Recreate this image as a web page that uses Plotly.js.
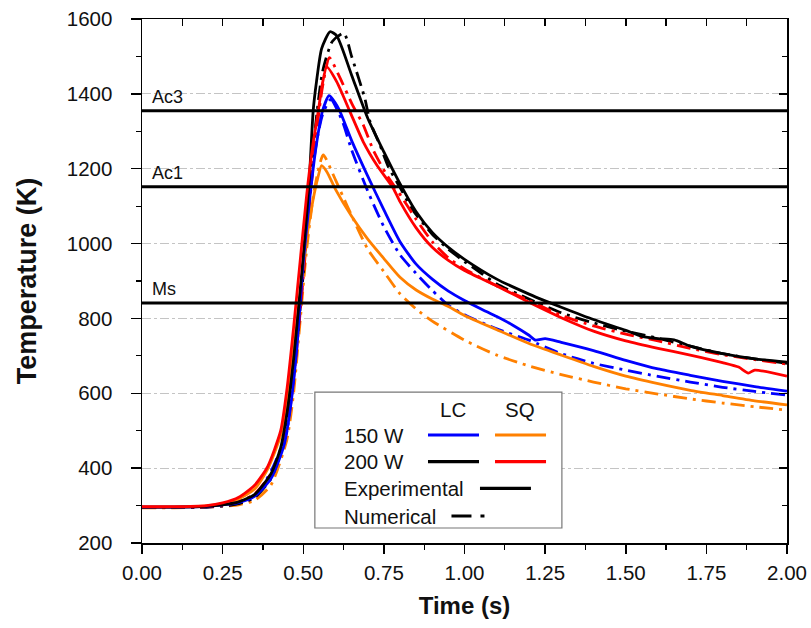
<!DOCTYPE html>
<html><head><meta charset="utf-8">
<script src="https://cdn.plot.ly/plotly-3.0.1.min.js"></script>
<style>html,body{margin:0;padding:0;background:#fff}#chart{width:811px;height:628px}</style>
</head><body><div id="chart"></div>
<script>
// ---- data ----
const lc150ExpT = [0,0.10,0.20,0.25,0.30,0.35,0.40,0.44,0.46,0.48,0.50,0.52,0.54,0.56,0.58,0.61,0.65,0.70,0.75,0.80,0.85,0.90,0.95,1.00,1.05,1.10,1.15,1.20,1.22,1.25,1.30,1.40,1.50,1.60,1.70,1.80,1.90,2.00];
const lc150ExpK = [296,296,298,302,308,325,372,460,560,720,950,1120,1260,1355,1395,1360,1275,1180,1090,1005,945,905,873,848,826,805,782,755,742,746,736,714,688,665,648,632,618,606];

const lc150NumT = [0,0.10,0.20,0.25,0.30,0.345,0.376,0.407,0.45,0.46,0.48,0.50,0.52,0.54,0.56,0.585,0.62,0.65,0.70,0.75,0.80,0.85,0.90,0.95,1.00,1.10,1.20,1.30,1.40,1.50,1.60,1.70,1.80,1.90,2.00];
const lc150NumK = [295,295,296,299,306,320,355,404,500,590,740,940,1130,1265,1345,1385,1330,1250,1140,1045,970,920,875,835,810,772,742,706,680,662,645,630,616,605,595];

const sq150ExpT = [0,0.10,0.20,0.25,0.30,0.35,0.39,0.43,0.45,0.47,0.49,0.51,0.53,0.545,0.557,0.573,0.60,0.65,0.70,0.75,0.80,0.85,0.90,0.95,1.00,1.10,1.20,1.30,1.40,1.50,1.60,1.70,1.80,1.90,2.00];
const sq150ExpK = [296,296,299,305,318,345,398,488,585,715,870,1010,1115,1175,1208,1192,1145,1073,1012,960,910,876,852,832,808,770,733,702,672,646,626,608,594,580,569];

const sq150NumT = [0,0.10,0.20,0.25,0.30,0.35,0.40,0.449,0.47,0.49,0.51,0.53,0.545,0.562,0.60,0.635,0.65,0.70,0.75,0.80,0.85,0.90,1.00,1.10,1.20,1.30,1.40,1.50,1.60,1.70,1.80,1.90,2.00];
const sq150NumK = [294,294,296,298,302,314,355,475,600,790,980,1120,1190,1237,1170,1103,1075,985,925,866,825,793,742,702,673,650,630,612,598,585,574,564,555];

const lc200ExpT = [0,0.10,0.20,0.25,0.30,0.35,0.40,0.43,0.45,0.47,0.49,0.51,0.52,0.531,0.541,0.557,0.583,0.604,0.65,0.70,0.75,0.80,0.85,0.90,0.95,1.00,1.10,1.20,1.25,1.30,1.40,1.50,1.55,1.60,1.65,1.70,1.80,1.90,2.00];
const lc200ExpK = [296,296,298,302,310,330,385,455,550,690,870,1070,1190,1357,1432,1521,1566,1555,1450,1335,1245,1160,1085,1030,990,958,905,865,847,830,797,768,752,746,743,726,706,692,683];

const lc200NumT = [0,0.10,0.20,0.25,0.30,0.35,0.40,0.44,0.46,0.48,0.50,0.52,0.54,0.56,0.59,0.626,0.65,0.691,0.707,0.738,0.764,0.80,0.836,0.90,0.95,1.00,1.05,1.10,1.20,1.30,1.40,1.50,1.60,1.70,1.80,1.90,2.00];
const lc200NumK = [295,295,296,299,305,322,372,470,570,730,920,1140,1330,1460,1540,1562,1500,1388,1326,1263,1205,1150,1094,1025,985,952,922,892,852,815,788,766,747,726,706,692,680];

const sq200ExpT = [0,0.10,0.20,0.25,0.30,0.35,0.39,0.43,0.45,0.47,0.49,0.51,0.52,0.53,0.545,0.56,0.573,0.604,0.645,0.686,0.728,0.779,0.80,0.85,0.90,0.95,1.00,1.10,1.20,1.30,1.40,1.50,1.60,1.70,1.80,1.85,1.88,1.90,2.00];
const sq200ExpK = [297,297,300,307,322,355,405,500,615,775,950,1125,1200,1265,1345,1430,1472,1432,1352,1272,1210,1148,1112,1042,990,955,928,887,843,802,766,740,720,702,682,670,654,662,646];

const sq200NumT = [0,0.10,0.20,0.25,0.30,0.35,0.40,0.44,0.46,0.48,0.50,0.52,0.54,0.56,0.581,0.61,0.653,0.686,0.717,0.759,0.795,0.85,0.90,0.95,1.00,1.10,1.20,1.30,1.40,1.50,1.60,1.70,1.80,1.90,2.00];
const sq200NumK = [295,295,297,301,310,332,385,470,565,720,910,1110,1290,1420,1497,1450,1370,1317,1250,1183,1138,1065,1005,962,932,887,848,808,780,758,740,720,703,690,678];

const refNames = ['Ac3','Ac1','Ms'];
const refTemps = [1355,1152,841];

const xTickVals = [0,0.25,0.5,0.75,1,1.25,1.5,1.75,2];
const xTickText = ['0.00','0.25','0.50','0.75','1.00','1.25','1.50','1.75','2.00'];

// legend content
const legendCols = ['LC','SQ'];
const legendRows = ['150 W','200 W'];
const legendColors = [['#0000ff','#ff8000'],['#000000','#ff0000']];

// ---- styles ----
const FONT = 'Liberation Sans, Arial, sans-serif';
const DASHDOT = '14px,6px,3px,6px';
const LW = 2.8;

function tr(x, y, color, dash) {
  return {x: x, y: y, type: 'scatter', mode: 'lines', hoverinfo: 'skip', showlegend: false,
    line: {color: color, width: LW, dash: dash, shape: 'spline', smoothing: 0.6}};
}

const traces = [
  tr(sq150NumT, sq150NumK, '#ff8000', DASHDOT),
  tr(lc150NumT, lc150NumK, '#0000ff', DASHDOT),
  tr(lc200NumT, lc200NumK, '#000000', DASHDOT),
  tr(sq200NumT, sq200NumK, '#ff0000', DASHDOT),
  tr(sq150ExpT, sq150ExpK, '#ff8000', 'solid'),
  tr(lc150ExpT, lc150ExpK, '#0000ff', 'solid'),
  tr(lc200ExpT, lc200ExpK, '#000000', 'solid'),
  tr(sq200ExpT, sq200ExpK, '#ff0000', 'solid'),
  {x: [], y: [], xaxis: 'x2', yaxis: 'y2', type: 'scatter', showlegend: false, hoverinfo: 'skip'}
];

const shapes = [];
const annotations = [];
refTemps.forEach((v, i) => {
  shapes.push({type: 'line', xref: 'paper', x0: 0, x1: 1, yref: 'y', y0: v, y1: v,
    line: {color: '#000', width: 3}, layer: 'above'});
  annotations.push({text: refNames[i], xref: 'paper', x: 0.012, xanchor: 'left', yref: 'y', y: v,
    yanchor: 'bottom', yshift: 2, showarrow: false, font: {family: FONT, size: 18, color: '#111'}});
});

// legend box (paper coords)
const LF = 20.5;
shapes.push({type: 'rect', xref: 'paper', yref: 'paper', x0: 0.268, x1: 0.651, y0: 0.0286, y1: 0.288,
  fillcolor: '#ffffff', line: {color: '#777', width: 1.2}, layer: 'above'});
const colX = [[0.4434, 0.5225], [0.5473, 0.6264]];
const colCx = [0.4814, 0.5868];
const rowY = [0.2061, 0.1552];
legendCols.forEach((c, j) => {
  annotations.push({text: c, xref: 'paper', yref: 'paper', x: colCx[j], y: 0.2557, xanchor: 'center',
    yanchor: 'middle', showarrow: false, font: {family: FONT, size: LF, color: '#111'}});
});
legendRows.forEach((r, i) => {
  annotations.push({text: r, xref: 'paper', yref: 'paper', x: 0.3096, y: rowY[i], xanchor: 'left',
    yanchor: 'middle', showarrow: false, font: {family: FONT, size: LF, color: '#111'}});
  legendCols.forEach((c, j) => {
    shapes.push({type: 'line', xref: 'paper', yref: 'paper', x0: colX[j][0], x1: colX[j][1],
      y0: rowY[i], y1: rowY[i], line: {color: legendColors[i][j], width: 3.2}, layer: 'above'});
  });
});
annotations.push({text: 'Experimental', xref: 'paper', yref: 'paper', x: 0.3096, y: 0.1044, xanchor: 'left',
  yanchor: 'middle', showarrow: false, font: {family: FONT, size: LF, color: '#111'}});
shapes.push({type: 'line', xref: 'paper', yref: 'paper', x0: 0.524, x1: 0.603, y0: 0.1044, y1: 0.1044,
  line: {color: '#000', width: 3.2}, layer: 'above'});
annotations.push({text: 'Numerical', xref: 'paper', yref: 'paper', x: 0.3096, y: 0.0515, xanchor: 'left',
  yanchor: 'middle', showarrow: false, font: {family: FONT, size: LF, color: '#111'}});
shapes.push({type: 'line', xref: 'paper', yref: 'paper', x0: 0.4798, x1: 0.5318, y0: 0.0515, y1: 0.0515,
  line: {color: '#000', width: 3.2, dash: '20px,9px,4px,100px'}, layer: 'above'});

const TF = 20.5;
const layout = {
  width: 811, height: 628,
  margin: {l: 142, r: 24, t: 19, b: 85},
  paper_bgcolor: '#fff', plot_bgcolor: '#fff',
  font: {family: FONT, size: TF, color: '#111'},
  showlegend: false,
  xaxis: {
    range: [0, 2], tickvals: xTickVals, ticktext: xTickText,
    ticks: 'outside', ticklen: 9, tickwidth: 1.5, tickcolor: '#000', ticklabelstandoff: 2,
    minor: {dtick: 0.125, ticks: 'outside', ticklen: 5, tickwidth: 1.2, tickcolor: '#000', showgrid: false},
    showline: true, linewidth: 1.5, linecolor: '#000', showgrid: false, zeroline: false,
    tickfont: {family: FONT, size: TF, color: '#111'},
    title: {text: '<b>Time (s)</b>', font: {family: FONT, size: 24, color: '#111'}, standoff: 14},
    automargin: false
  },
  yaxis: {
    range: [200, 1600], dtick: 200, tick0: 200,
    ticks: 'outside', ticklen: 10, tickwidth: 1.5, tickcolor: '#000', ticklabelstandoff: 14,
    minor: {dtick: 100, ticks: 'outside', ticklen: 5, tickwidth: 1.2, tickcolor: '#000', showgrid: false},
    showline: true, linewidth: 1.5, linecolor: '#000',
    showgrid: true, gridcolor: '#c4c4c4', gridwidth: 1, griddash: 'dashdot', zeroline: false,
    tickfont: {family: FONT, size: TF, color: '#111'},
    title: {text: '<b>Temperature (K)</b>', font: {family: FONT, size: 27, color: '#111'}, standoff: 22},
    automargin: false
  },
  xaxis2: {
    overlaying: 'x', side: 'top', range: [0, 2], dtick: 0.25, tick0: 0,
    ticks: 'inside', ticklen: 7, tickwidth: 1.5, tickcolor: '#000', showticklabels: false,
    minor: {dtick: 0.125, ticks: 'inside', ticklen: 7, tickwidth: 1.2, tickcolor: '#000', showgrid: false},
    showline: true, linewidth: 1.5, linecolor: '#000', showgrid: false, zeroline: false
  },
  yaxis2: {
    overlaying: 'y', side: 'right', range: [200, 1600], dtick: 200, tick0: 200,
    ticks: 'inside', ticklen: 8, tickwidth: 1.5, tickcolor: '#000', showticklabels: false,
    minor: {dtick: 100, ticks: 'inside', ticklen: 5, tickwidth: 1.2, tickcolor: '#000', showgrid: false},
    showline: true, linewidth: 1.5, linecolor: '#000', showgrid: false, zeroline: false
  },
  shapes: shapes,
  annotations: annotations
};

Plotly.newPlot('chart', traces, layout, {staticPlot: true, displayModeBar: false});
</script></body></html>
